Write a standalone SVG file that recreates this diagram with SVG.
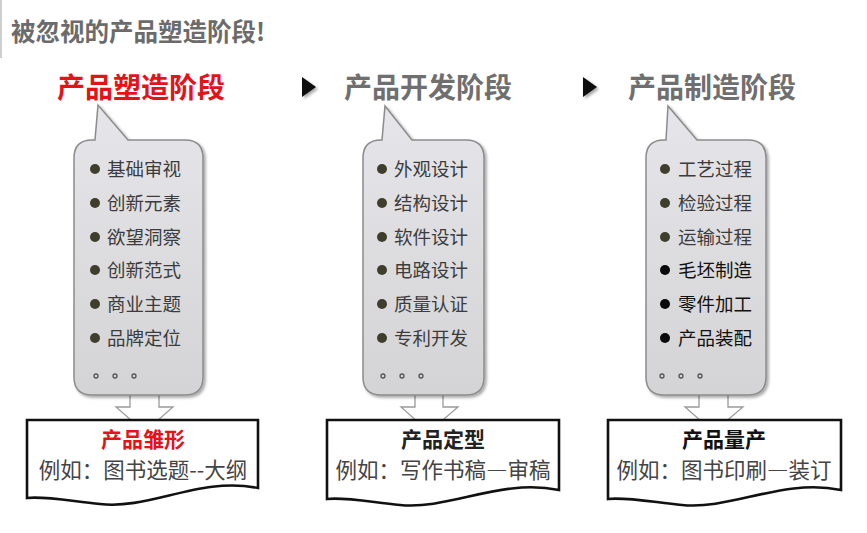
<svg xmlns="http://www.w3.org/2000/svg" width="867" height="533" viewBox="0 0 867 533">
<defs>
<linearGradient id="bubbleFill" x1="0" y1="0" x2="0" y2="1">
<stop offset="0" stop-color="#e6e6ea"/>
<stop offset="1" stop-color="#d4d4d6"/>
</linearGradient>
<filter id="shadow" x="-10%" y="-10%" width="130%" height="130%">
<feGaussianBlur in="SourceAlpha" stdDeviation="1.5"/>
<feOffset dx="1.5" dy="2" result="b"/>
<feComponentTransfer><feFuncA type="linear" slope="0.35"/></feComponentTransfer>
<feMerge><feMergeNode/><feMergeNode in="SourceGraphic"/></feMerge>
</filter>
</defs>
<style>
text{font-family:"Noto Sans CJK SC","Noto Sans",sans-serif;}
.title{font-size:24.5px;font-weight:bold;fill:#6b6b6b;}
.head{font-size:28px;font-weight:bold;}
.headRed{fill:#e2141a;}
.headGray{fill:#6f6f6f;}
.bubble{fill:url(#bubbleFill);stroke:#8c8c8c;stroke-width:1.5;}
.item{font-size:18.5px;fill:#3c3c3c;}
.itemDark{font-size:18.5px;fill:#111;}
.bullet{fill:#3f3d2c;}
.bulletDark{fill:#0a0a0a;}
.dot{fill:none;stroke:#555;stroke-width:1.3;}
.hollow{fill:#fff;stroke:#9a9a9a;stroke-width:1.3;}
.doc{fill:#fff;stroke:#111;stroke-width:2.6;}
.docHead{font-size:21px;font-weight:bold;text-anchor:middle;}
.docText{font-size:21.5px;fill:#444;text-anchor:middle;}
.fw{font-feature-settings:"fwid";}
.tri{fill:#111;}
</style>
<rect x="0" y="0" width="867" height="533" fill="#fff"/>
<line x1="1" y1="0" x2="1" y2="58" stroke="#cfcfcf" stroke-width="2"/>

<g id="title">
<text class="title" x="11" y="41">被忽视的产品塑造阶段!</text>
</g>

<g id="connectors">
<polygon class="tri" points="302,77 316,87 302,97" filter="url(#shadow)"/>
<polygon class="tri" points="583,77 597,87 583,97" filter="url(#shadow)"/>
<path class="hollow" d="M130,386 H159 V407 H173 L144.5,432 L116,407 H130 Z"/>
<path class="hollow" d="M415,386 H443 V407 H458 L429,432 L401,407 H415 Z"/>
<path class="hollow" d="M699,386 H728 V407 H743 L713.5,432 L685,407 H699 Z"/>
</g>

<g id="stage1">
<text class="head headRed" x="57" y="98">产品塑造阶段</text>
<path class="bubble" filter="url(#shadow)" d="M92,140 L95,140 L98,105 L128,140 L185,140 Q203,140 203,158 L203,377 Q203,395 185,395 L92,395 Q74,395 74,377 L74,158 Q74,140 92,140 Z"/>
<circle class="bullet" cx="95" cy="169" r="5"/>
<circle class="bullet" cx="95" cy="203" r="5"/>
<circle class="bullet" cx="95" cy="237" r="5"/>
<circle class="bullet" cx="95" cy="270" r="5"/>
<circle class="bullet" cx="95" cy="304" r="5"/>
<circle class="bullet" cx="95" cy="338" r="5"/>
<text class="item" x="107" y="176">基础审视</text>
<text class="item" x="107" y="210">创新元素</text>
<text class="item" x="107" y="244">欲望洞察</text>
<text class="item" x="107" y="277">创新范式</text>
<text class="item" x="107" y="311">商业主题</text>
<text class="item" x="107" y="345">品牌定位</text>
<circle class="dot" cx="96" cy="376" r="2"/>
<circle class="dot" cx="115" cy="376" r="2"/>
<circle class="dot" cx="134" cy="376" r="2"/>
</g>

<g id="stage2">
<text class="head headGray" x="344" y="98">产品开发阶段</text>
<path class="bubble" filter="url(#shadow)" d="M381,140 L382,140 L385,106 L412,140 L466,140 Q484,140 484,158 L484,377 Q484,395 466,395 L381,395 Q363,395 363,377 L363,158 Q363,140 381,140 Z"/>
<circle class="bullet" cx="382" cy="169" r="5"/>
<circle class="bullet" cx="382" cy="203" r="5"/>
<circle class="bullet" cx="382" cy="237" r="5"/>
<circle class="bullet" cx="382" cy="270" r="5"/>
<circle class="bullet" cx="382" cy="304" r="5"/>
<circle class="bullet" cx="382" cy="338" r="5"/>
<text class="item" x="394" y="176">外观设计</text>
<text class="item" x="394" y="210">结构设计</text>
<text class="item" x="394" y="244">软件设计</text>
<text class="item" x="394" y="277">电路设计</text>
<text class="item" x="394" y="311">质量认证</text>
<text class="item" x="394" y="345">专利开发</text>
<circle class="dot" cx="383" cy="376" r="2"/>
<circle class="dot" cx="402" cy="376" r="2"/>
<circle class="dot" cx="421" cy="376" r="2"/>
</g>

<g id="stage3">
<text class="head headGray" x="628" y="98">产品制造阶段</text>
<path class="bubble" filter="url(#shadow)" d="M664,140 L666,140 L668,106 L697,140 L748,140 Q766,140 766,158 L766,377 Q766,395 748,395 L664,395 Q646,395 646,377 L646,158 Q646,140 664,140 Z"/>
<circle class="bullet" cx="665" cy="169" r="5"/>
<circle class="bullet" cx="665" cy="203" r="5"/>
<circle class="bullet" cx="665" cy="237" r="5"/>
<circle class="bulletDark" cx="665" cy="270" r="5"/>
<circle class="bulletDark" cx="665" cy="304" r="5"/>
<circle class="bulletDark" cx="665" cy="338" r="5"/>
<text class="item" x="678" y="176">工艺过程</text>
<text class="item" x="678" y="210">检验过程</text>
<text class="item" x="678" y="244">运输过程</text>
<text class="itemDark" x="678" y="277">毛坯制造</text>
<text class="itemDark" x="678" y="311">零件加工</text>
<text class="itemDark" x="678" y="345">产品装配</text>
<circle class="dot" cx="662" cy="376" r="2"/>
<circle class="dot" cx="681" cy="376" r="2"/>
<circle class="dot" cx="700" cy="376" r="2"/>
</g>

<g id="result1">
<path class="doc" d="M27,420 H258 V488 C200,476 150,510 100,504 C70,501 45,496 27,498 Z"/>
<text class="docHead" x="143" y="447" fill="#e2141a">产品雏形</text>
<text class="docText" x="143" y="478">例如：图书选题--大纲</text>
</g>

<g id="result2">
<path class="doc" d="M327,420 H559 V490 C500,478 450,510 400,505 C370,502 345,497 327,499 Z"/>
<text class="docHead" x="443" y="447" fill="#222">产品定型</text>
<text class="docText" x="443" y="478">例如：写作书稿<tspan class="fw">—</tspan>审稿</text>
</g>

<g id="result3">
<path class="doc" d="M608,420 H841 V490 C782,478 732,510 682,505 C652,502 626,497 608,499 Z"/>
<text class="docHead" x="724" y="447" fill="#111">产品量产</text>
<text class="docText" x="724" y="478">例如：图书印刷<tspan class="fw">—</tspan>装订</text>
</g>
</svg>
